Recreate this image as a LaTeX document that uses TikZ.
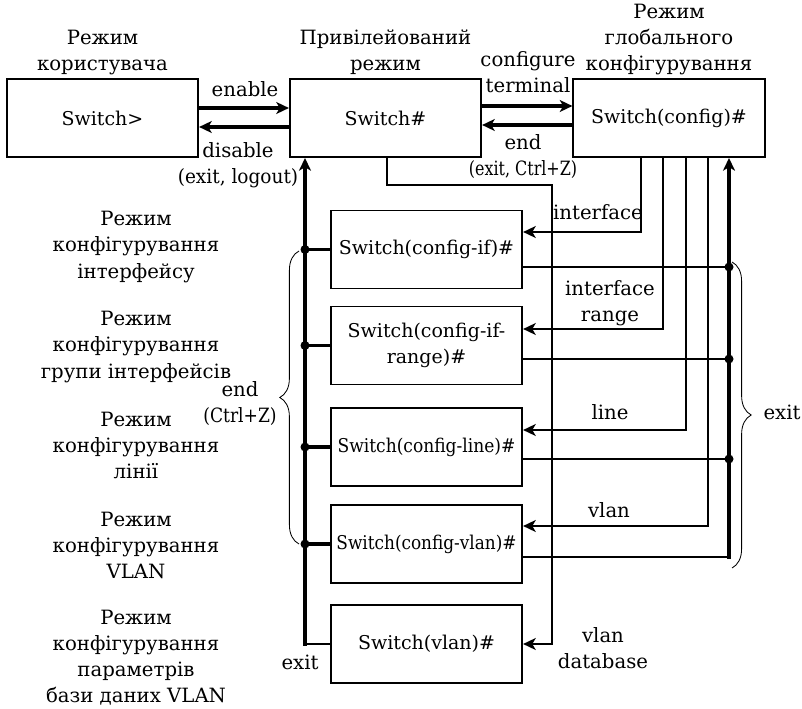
\documentclass[tikz,border=0pt]{standalone}
\usepackage{fontspec}
\setmainfont{DejaVu Serif}
\usetikzlibrary{arrows.meta,positioning,calc,decorations.pathreplacing}

\begin{document}
\begin{tikzpicture}
  [x=0.025cm,y=-0.025cm,
   every node/.style={font=\fontsize{14}{18.5}\selectfont, align=center},
   modebox/.style={rectangle, draw=black, line width=1.4pt, minimum width=4.78cm, minimum height=1.95cm, inner sep=1pt, font=\fontsize{13.5}{18.5}\selectfont},
   title/.style={inner sep=1pt},
   link/.style={line width=1.6pt},
   bus/.style={line width=2.2pt},
   arr/.style={-{Stealth[length=9pt,width=8.5pt,inset=2.5pt]}},
   thinbrace/.style={decorate, decoration={brace, amplitude=0.48cm}, line width=0.6pt}]
  \useasboundingbox (0,0) rectangle (802,709);

  \node[modebox] (user) at (102.5,118) {Switch>};
  \node[modebox] (priv) at (385.5,118) {Switch\#};
  \node[modebox] (conf) at (669,118) {Switch(config)\#};
  \node[modebox] (cif) at (426.5,249.5) {Switch(config-if)\#};
  \node[modebox] (crange) at (426.5,345.5) {Switch(config-if-\\range)\#};
  \node[modebox] (cline) at (426.5,447) {\scalebox{0.9}[1]{Switch(config-line)\#}};
  \node[modebox] (cvlan) at (426.5,544) {\scalebox{0.89}[1]{Switch(config-vlan)\#}};
  \node[modebox] (vdb) at (426.5,644) {Switch(vlan)\#};

  \node[title, above=1pt of user] (tuser) {Режим\\користувача};
  \node[title, above=1pt of priv] (tpriv) {Привілейований\\режим};
  \node[title, above=1pt of conf] (tconf) {Режим\\глобального\\конфігурування};

  \node (mif) at (136,247) {Режим\\конфігурування\\інтерфейсу};
  \node (mrange) at (136,347) {Режим\\конфігурування\\групи інтерфейсів};
  \node (mline) at (136,445) {Режим\\конфігурування\\лінії};
  \node (mvlan) at (136,545) {Режим\\конфігурування\\VLAN};
  \node (mdb) at (136,658) {Режим\\конфігурування\\параметрів\\бази даних VLAN};

  \coordinate (lbus) at (305,0);
  \coordinate (rbus) at (729,0);

  % user <-> privileged <-> global config
  \draw[bus,arr] (user.east |- 0,108) -- (priv.west |- 0,108);
  \draw[bus,arr] (priv.west |- 0,127) -- (user.east |- 0,127);
  \draw[bus,arr] (priv.east |- 0,106) -- (conf.west |- 0,106);
  \draw[bus,arr] (conf.west |- 0,125) -- (priv.east |- 0,125);
  \node (lenable) at (245,89) {enable};
  \node (ldisable) at (238,165) {disable\\\scalebox{0.94}[1]{(exit, logout)}};
  \node (lconft) at (528,72) {configure\\terminal};
  \node (lend) at (523,157) {end\\\scalebox{0.81}[1]{(exit, Ctrl+Z)}};

  % end bus on the left
  \draw[link] (vdb.west) -- (vdb.west -| lbus);
  \draw[bus,arr,line cap=rect] (vdb.west -| lbus) -- (priv.south -| lbus);
  \foreach \n in {cif,crange,cline,cvlan} {
    \draw[bus] (\n.west) -- (\n.west -| lbus);
    \fill (\n.west -| lbus) circle (3.2pt);
  }
  \node (lexit) at (300,662) {exit};

  % exit bus on the right
  \draw[link] (cvlan.east |- 0,557) -- (rbus |- 0,557);
  \draw[bus,arr,line cap=rect] (rbus |- 0,557) -- (conf.south -| rbus);
  \foreach \n/\y in {cif/267,crange/359,cline/459} {
    \draw[link] (\n.east |- 0,\y) -- (rbus |- 0,\y);
    \fill (rbus |- 0,\y) circle (3.2pt);
  }

  % commands from global config
  \foreach \n/\x/\y in {cif/641/232,crange/663/329,cline/686/430,cvlan/708/526}
    \draw[link,arr] (conf.south -| \x,0) |- (\n.east |- 0,\y);
  \node (lif) at (598,212) {interface};
  \node (lrange) at (610,303) {interface\\range};
  \node (lline) at (610,412) {line};
  \node (lvlan) at (609,510) {vlan};

  \draw[link,arr] (priv.south -| 387,0) |- (552,185) |- (vdb.east);
  \node (ldb) at (603,648) {vlan\\database};

  % braces
  \draw[thinbrace] (299,544) -- (299,251);
  \node (lctrlz) at (240,404) {end\\\scalebox{0.87}[1]{(Ctrl+Z)}};
  \draw[thinbrace] (732,262) -- (732,568);
  \node (lexitr) at (782,412) {exit};
\end{tikzpicture}
\end{document}
